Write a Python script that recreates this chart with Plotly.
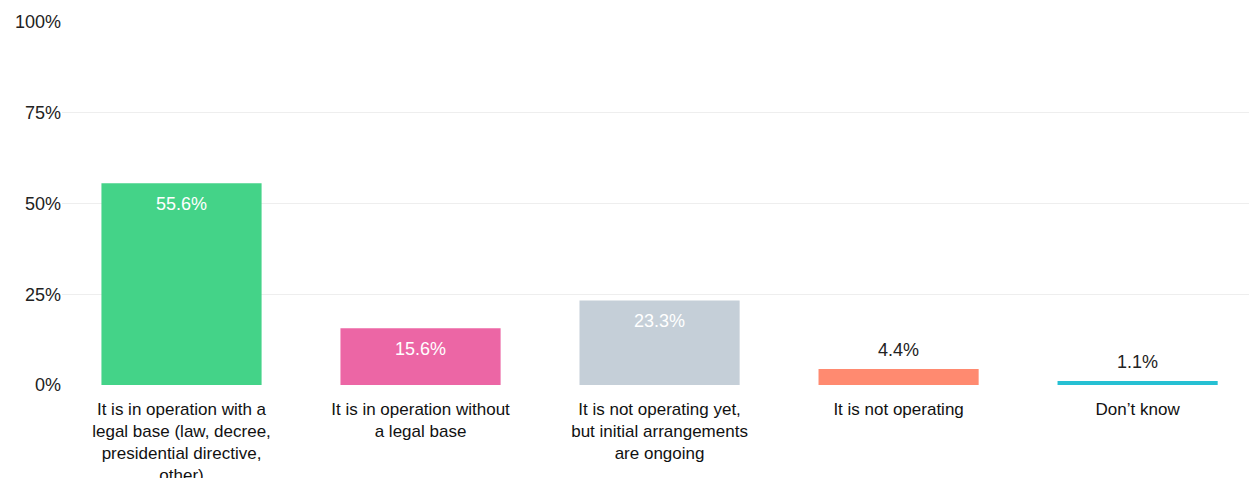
import plotly.graph_objects as go

categories = [
    "It is in operation with a<br>legal base (law, decree,<br>presidential directive,<br>other)",
    "It is in operation without<br>a legal base",
    "It is not operating yet,<br>but initial arrangements<br>are ongoing",
    "It is not operating",
    "Don’t know",
]
values = [55.6, 15.6, 23.3, 4.4, 1.1]
labels = ["55.6%", "15.6%", "23.3%", "4.4%", "1.1%"]
colors = ["#44D388", "#EC66A5", "#C5CFD8", "#FF8A70", "#26C0D3"]
inside = [True, True, True, False, False]
text_colors = ["#ffffff", "#ffffff", "#ffffff", "#222222", "#222222"]
y_ticks = [0, 25, 50, 75, 100]
y_tick_labels = ["0%", "25%", "50%", "75%", "100%"]

FONT = "Liberation Sans, Arial, sans-serif"
xs = list(range(len(categories)))

fig = go.Figure(
    go.Bar(
        x=xs,
        y=values,
        marker=dict(color=colors, line=dict(width=0)),
        hoverinfo="skip",
    )
)

for x, v, lab, ins, tc in zip(xs, values, labels, inside, text_colors):
    fig.add_annotation(
        x=x,
        y=v,
        text=lab,
        showarrow=False,
        xanchor="center",
        yanchor="top" if ins else "bottom",
        yshift=-9 if ins else 7,
        font=dict(size=18, color=tc, family=FONT),
    )

fig.update_layout(
    width=1249,
    height=478,
    margin=dict(l=62, r=0, t=22, b=93, autoexpand=False),
    paper_bgcolor="white",
    plot_bgcolor="white",
    bargap=0.33,
    showlegend=False,
    font=dict(family=FONT, size=18, color="#222222"),
    xaxis=dict(
        tickmode="array",
        tickvals=xs,
        ticktext=categories,
        range=[-0.5, 4.466],
        showgrid=False,
        showline=False,
        zeroline=False,
        ticks="",
        automargin=False,
        ticklabelstandoff=12,
        tickfont=dict(size=17, color="#111111", family=FONT),
    ),
    yaxis=dict(
        range=[0, 100],
        tickvals=y_ticks,
        ticktext=y_tick_labels,
        showgrid=True,
        gridcolor="#eeeeee",
        gridwidth=1,
        zeroline=False,
        showline=False,
        ticks="",
        automargin=False,
        tickfont=dict(size=18, color="#222222", family=FONT),
    ),
)

fig.write_html("out.html")
